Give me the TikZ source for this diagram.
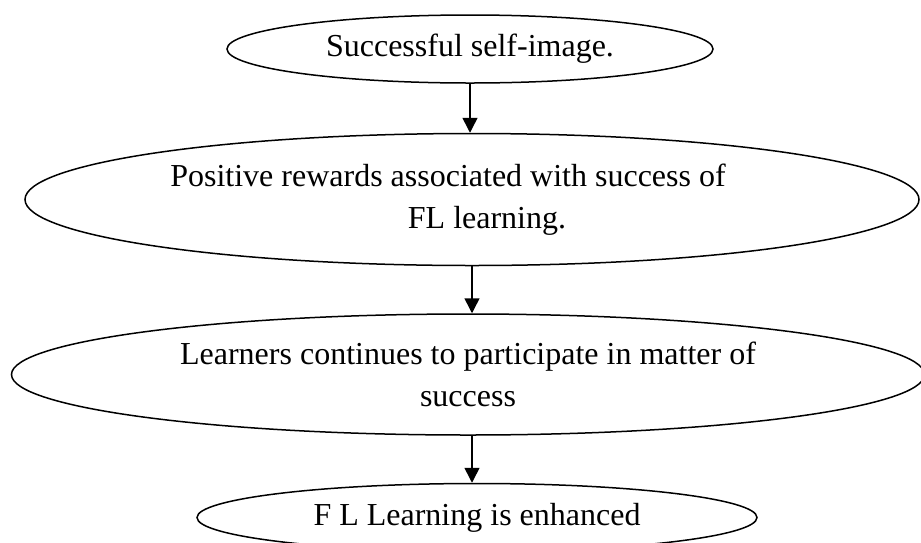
\documentclass[tikz,border=0pt]{standalone}
\usepackage{fontspec}
\setmainfont{Liberation Serif}
\usetikzlibrary{shapes.geometric, arrows.meta, positioning}

\begin{document}
\begin{tikzpicture}[
  x=1pt, y=-1pt,
  >={Triangle[length=15pt, width=15pt]},
  stage/.style={draw, ellipse, line width=1.5pt, inner sep=0pt, align=center, font=\fontsize{32}{42}\selectfont},
  flow/.style={->, line width=1.5pt}
]
\useasboundingbox (0,0) rectangle (921,542);

\node[stage, minimum width=486pt, minimum height=68pt] (SelfImage) at (470,49) {Successful self-image.};
\node[stage, minimum width=894pt, minimum height=132pt] (Rewards) [below=49pt of SelfImage, xshift=2pt] {Positive rewards associated with success of\hspace*{48pt}\\\hspace*{30pt}FL learning.};
\node[stage, minimum width=913pt, minimum height=121pt] (Participate) [below=47pt of Rewards, xshift=-4pt] {Learners continues to participate in matter of\\success};
\node[stage, minimum width=560pt, minimum height=68pt] (Enhanced) [below=47pt of Participate, xshift=9pt] {F L Learning is enhanced};

\draw[flow] (SelfImage.south) -- (SelfImage.south |- Rewards.north);
\draw[flow] (Rewards.south) -- (Rewards.south |- Participate.north);
\draw[flow] ([xshift=4pt]Participate.south) -- ([xshift=4pt]Participate.south |- Enhanced.north);
\end{tikzpicture}
\end{document}
